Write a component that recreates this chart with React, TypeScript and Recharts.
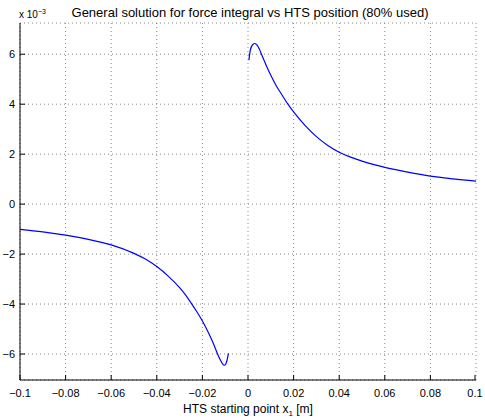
import { LineChart, Line, XAxis, YAxis, CartesianGrid } from "recharts"

// y values are in units of 1e-3 (axis shows "x 10^-3")
const leftX = [
  -0.1, -0.09, -0.08, -0.07, -0.06, -0.05, -0.045, -0.04, -0.035, -0.03, -0.0275, -0.025, -0.0225,
  -0.02, -0.0175, -0.015, -0.0135, -0.012, -0.011, -0.0104, -0.0098, -0.0093, -0.0089, -0.0086,
]
const leftY = [
  -1.01, -1.11, -1.24, -1.41, -1.63, -1.97, -2.2, -2.5, -2.88, -3.34, -3.62, -3.95, -4.3,
  -4.68, -5.12, -5.62, -5.97, -6.26, -6.41, -6.45, -6.41, -6.28, -6.12, -5.97,
]
const rightX = [
  0.0004, 0.001, 0.002, 0.003, 0.004, 0.005, 0.006, 0.008, 0.01, 0.0125, 0.015, 0.0175, 0.02,
  0.025, 0.03, 0.035, 0.04, 0.045, 0.05, 0.06, 0.07, 0.08, 0.09, 0.1,
]
const rightY = [
  5.76, 6.15, 6.38, 6.43, 6.36, 6.2, 5.98, 5.55, 5.16, 4.72, 4.36, 4.0, 3.69,
  3.15, 2.7, 2.35, 2.08, 1.88, 1.72, 1.47, 1.28, 1.12, 1.01, 0.92,
]
const xTicks = [-0.1, -0.08, -0.06, -0.04, -0.02, 0, 0.02, 0.04, 0.06, 0.08, 0.1]
const yTicks = [-6, -4, -2, 0, 2, 4, 6]

const leftData = leftX.map((x, i) => ({ x, y: leftY[i] }))
const rightData = rightX.map((x, i) => ({ x, y: rightY[i] }))

const font = "'Liberation Sans', Arial, Helvetica, sans-serif"
const fmt = (v: number) => (v === 0 ? "0" : `${v < 0 ? "\u2212" : ""}${Math.abs(v)}`)

// MATLAB-style ticks point into the plot box, so draw them ourselves
const BottomTick = (p: any) => (
  <g>
    <line x1={p.x} x2={p.x} y1={p.y - 9} y2={p.y - 14} stroke="#000" />
    <text x={p.x} y={p.y} dy="0.71em" textAnchor="middle" fontSize={11} fill="#000">
      {fmt(p.payload.value)}
    </text>
  </g>
)
const LeftTick = (p: any) => (
  <g>
    <line x1={p.x + 5} x2={p.x + 10} y1={p.y} y2={p.y} stroke="#000" />
    <text x={p.x} y={p.y} dy="0.355em" textAnchor="end" fontSize={11} fill="#000">
      {fmt(p.payload.value)}
    </text>
  </g>
)
const TopTick = (p: any) => <line x1={p.x} x2={p.x} y1={p.y} y2={p.y + 5} stroke="#000" />
const RightTick = (p: any) => <line x1={p.x} x2={p.x - 5} y1={p.y} y2={p.y} stroke="#000" />

export default function App() {
  return (
    <div style={{ position: "absolute", left: 0, top: 0, width: 485, height: 420, background: "#fff" }}>
      <LineChart
        width={485}
        height={420}
        margin={{ top: 23, right: 9, left: 0, bottom: 0 }}
        style={{ fontFamily: font }}
      >
        <CartesianGrid stroke="#888" strokeDasharray="1 3" />
        <XAxis
          dataKey="x"
          type="number"
          domain={[-0.1, 0.1]}
          ticks={xTicks}
          allowDataOverflow
          height={40}
          tickSize={0}
          tickMargin={9}
          tickLine={false}
          tick={BottomTick}
          axisLine={{ stroke: "#000" }}
        />
        <XAxis
          xAxisId="top"
          orientation="top"
          type="number"
          domain={[-0.1, 0.1]}
          ticks={xTicks}
          allowDataOverflow
          height={0}
          tickSize={0}
          tickMargin={0}
          tickLine={false}
          tick={TopTick}
          axisLine={{ stroke: "#000" }}
        />
        <YAxis
          type="number"
          domain={[-7.04, 7.25]}
          ticks={yTicks}
          allowDataOverflow
          width={20}
          tickSize={0}
          tickMargin={5}
          tickLine={false}
          tick={LeftTick}
          axisLine={{ stroke: "#000" }}
        />
        <YAxis
          yAxisId="right"
          orientation="right"
          type="number"
          domain={[-7.04, 7.25]}
          ticks={yTicks}
          allowDataOverflow
          width={0}
          tickSize={0}
          tickMargin={0}
          tickLine={false}
          tick={RightTick}
          axisLine={{ stroke: "#000" }}
        />
        <Line
          data={leftData}
          dataKey="y"
          type="monotone"
          stroke="#0000ff"
          strokeWidth={1.2}
          dot={false}
          isAnimationActive={false}
        />
        <Line
          data={rightData}
          dataKey="y"
          type="monotone"
          stroke="#0000ff"
          strokeWidth={1.2}
          dot={false}
          isAnimationActive={false}
        />
      </LineChart>
      <svg
        width={485}
        height={420}
        style={{ position: "absolute", left: 0, top: 0, pointerEvents: "none", fontFamily: font }}
      >
        <text x={250} y={17} textAnchor="middle" fontSize={13} fill="#000">
          General solution for force integral vs HTS position (80% used)
        </text>
        <text x={19} y={18} fontSize={10} fill="#000">
          x 10
          <tspan fontSize={7} dy={-4}>
            {"\u22123"}
          </tspan>
        </text>
        <text x={248} y={413} textAnchor="middle" fontSize={12} fill="#000">
          HTS starting point x
          <tspan fontSize={8} dy={3}>
            1
          </tspan>
          <tspan dy={-3}> [m]</tspan>
        </text>
      </svg>
    </div>
  )
}
